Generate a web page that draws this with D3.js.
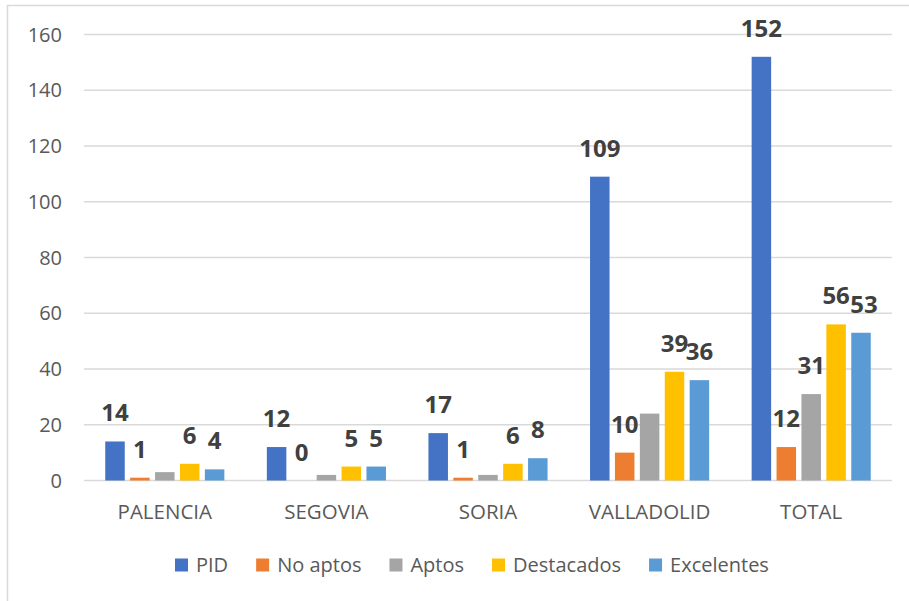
<!DOCTYPE html>
<html>
<head>
<meta charset="utf-8">
<script src="https://cdn.jsdelivr.net/npm/d3@7"></script>
<style>
  body { margin: 0; background: #fff; }
  svg { display: block; font-family: "Open Sans", sans-serif; }
</style>
</head>
<body>
<script>
// categories and series
const categories = ['PALENCIA', 'SEGOVIA', 'SORIA', 'VALLADOLID', 'TOTAL']
const seriesNames = ['PID', 'No aptos', 'Aptos', 'Destacados', 'Excelentes']
const pid = [14, 12, 17, 109, 152]
const noAptos = [1, 0, 1, 10, 12]
const aptos = [3, 2, 2, 24, 31]
const destacados = [6, 5, 6, 39, 56]
const excelentes = [4, 5, 8, 36, 53]
const yTicks = [0, 20, 40, 60, 80, 100, 120, 140, 160]
// the Aptos labels only show on TOTAL in the original
const hiddenLabels = [['PALENCIA', 'Aptos'], ['SEGOVIA', 'Aptos'], ['SORIA', 'Aptos'], ['VALLADOLID', 'Aptos']]

const colors = ['#4472C4', '#ED7D31', '#A5A5A5', '#FFC000', '#5B9BD5']
const values = [pid, noAptos, aptos, destacados, excelentes]

const width = 909
const height = 601

const svg = d3.select('body').append('svg')
  .attr('width', width)
  .attr('height', height)

// outer chart border (runs off the right/bottom edge)
svg.append('rect')
  .attr('x', 7.5).attr('y', 5.5)
  .attr('width', 920).attr('height', 620)
  .attr('fill', 'none')
  .attr('stroke', '#d9d9d9')
  .attr('stroke-width', 1.5)

const plotLeft = 84
const plotRight = 892

const y = d3.scaleLinear()
  .domain([0, 160])
  .range([480.5, 34.5])

const x0 = d3.scaleBand()
  .domain(categories)
  .range([plotLeft, plotRight])

const x1 = d3.scaleBand()
  .domain(seriesNames)
  .range([0, x0.bandwidth()])
  .paddingInner(0.217)
  .paddingOuter(0.853)

// gridlines + y labels
const grid = svg.append('g')
grid.selectAll('line')
  .data(yTicks)
  .enter().append('line')
  .attr('x1', plotLeft).attr('x2', plotRight)
  .attr('y1', d => y(d)).attr('y2', d => y(d))
  .attr('stroke', '#d9d9d9')
  .attr('stroke-width', 1.5)

grid.selectAll('text')
  .data(yTicks)
  .enter().append('text')
  .attr('x', 62)
  .attr('y', d => y(d) + 7)
  .attr('text-anchor', 'end')
  .attr('font-size', 20)
  .attr('fill', '#595959')
  .text(d => d)

// flatten into one row per bar
const rows = []
categories.forEach((c, i) => {
  seriesNames.forEach((s, j) => {
    rows.push({ cat: c, series: s, value: values[j][i], color: colors[j] })
  })
})

const isHidden = d => hiddenLabels.some(h => h[0] === d.cat && h[1] === d.series)

svg.append('g').selectAll('rect')
  .data(rows)
  .enter().append('rect')
  .attr('x', d => x0(d.cat) + x1(d.series))
  .attr('y', d => y(d.value))
  .attr('width', x1.bandwidth())
  .attr('height', d => y(0) - y(d.value))
  .attr('fill', d => d.color)

// data labels, bold, above each bar
// (53 on TOTAL is pushed a bit right in the original so it doesn't hit 56)
svg.append('g').selectAll('text')
  .data(rows.filter(d => !isHidden(d)))
  .enter().append('text')
  .attr('x', d => x0(d.cat) + x1(d.series) + x1.bandwidth() / 2 +
    (d.cat === 'TOTAL' && d.series === 'Excelentes' ? 3 : 0))
  .attr('y', d => y(d.value) - 20)
  .attr('text-anchor', 'middle')
  .attr('font-size', 24)
  .attr('font-weight', 'bold')
  .attr('fill', '#404040')
  .text(d => d.value)

// category labels
svg.append('g').selectAll('text')
  .data(categories)
  .enter().append('text')
  .attr('x', d => x0(d) + x0.bandwidth() / 2)
  .attr('y', 519)
  .attr('text-anchor', 'middle')
  .attr('font-size', 20.5)
  .attr('fill', '#595959')
  .text(d => d)

// legend, laid out left to right
const legend = svg.append('g')
let lx = 175
seriesNames.forEach((s, j) => {
  legend.append('rect')
    .attr('x', lx).attr('y', 558.5)
    .attr('width', 13).attr('height', 13)
    .attr('fill', colors[j])
  const t = legend.append('text')
    .attr('x', lx + 21)
    .attr('y', 572)
    .attr('font-size', 20)
    .attr('fill', '#595959')
    .text(s)
  lx += 21 + t.node().getComputedTextLength() + 28
})
</script>
</body>
</html>
